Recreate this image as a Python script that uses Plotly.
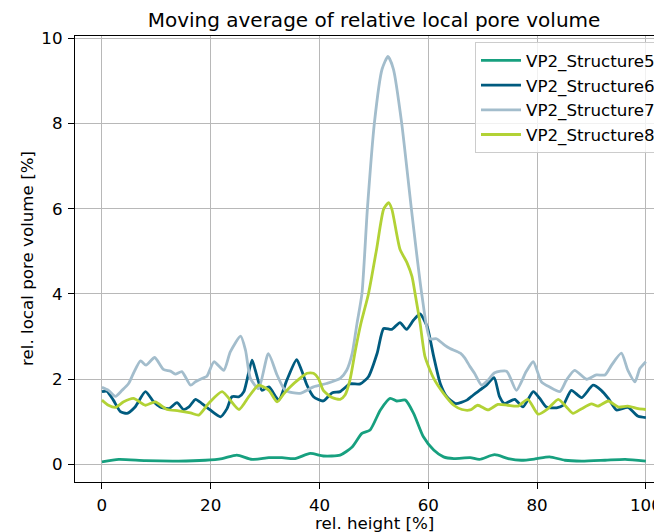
import plotly.graph_objects as go

# ---- data ----
x5 = [0, 3.1, 8, 14.1, 19, 22.1, 24.8, 27.6, 30.7, 33.1, 35.5, 38.3, 40.7, 43.8, 46.0, 47.8, 49.3,
      51.2, 53.0, 54.2, 55.8, 57.3, 59.1, 61.0, 62.8, 64.7, 67.7, 69.4, 72.2, 74.7, 77.1, 79.6,
      82.3, 85.1, 88.2, 92.5, 96.2, 100]
y5 = [0.06, 0.12, 0.09, 0.08, 0.10, 0.14, 0.22, 0.12, 0.16, 0.16, 0.14, 0.26, 0.20, 0.22, 0.41, 0.73, 0.81,
      1.28, 1.55, 1.49, 1.51, 1.20, 0.65, 0.34, 0.18, 0.14, 0.16, 0.12, 0.23, 0.14, 0.10, 0.13,
      0.18, 0.10, 0.08, 0.10, 0.12, 0.08]

x6 = [0, 0.9, 2.1, 3.4, 4.6, 6.1, 8.0, 9.5, 10.7, 12.3, 13.8, 15.0, 16.0, 17.2, 18.4, 19.9, 21.8,
      23.0, 23.9, 25.2, 26.1, 27.6, 28.2, 29.4, 30.7, 32.5, 34.0, 35.8, 36.7, 37.7, 38.9, 40.7,
      42.3, 43.8, 45.6, 47.5, 49.0, 50.6, 51.8, 53.3, 54.8, 56.0, 57.3, 58.5, 59.8, 61.0, 62.2,
      63.4, 65.0, 67.1, 67.9, 69.4, 70.7, 72.1, 73.1, 74.0, 75.9, 77.4, 79.3, 80.5, 81.7, 83.6,
      84.8, 86.3, 88.2, 90.3, 91.8, 93.1, 94.6, 96.7, 98.6, 100]
y6 = [1.71, 1.72, 1.51, 1.24, 1.20, 1.35, 1.71, 1.47, 1.35, 1.31, 1.45, 1.29, 1.35, 1.53, 1.43, 1.28, 1.12,
      1.31, 1.59, 1.59, 1.71, 2.45, 2.21, 1.74, 1.82, 1.51, 1.98, 2.46, 2.21, 1.86, 1.59, 1.49,
      1.68, 1.71, 1.89, 1.89, 2.06, 2.61, 3.19, 3.17, 3.33, 3.17, 3.39, 3.53, 3.23, 2.53, 1.90,
      1.59, 1.43, 1.51, 1.59, 1.74, 1.86, 2.04, 1.59, 1.43, 1.53, 1.35, 1.71, 1.55, 1.35, 1.33,
      1.39, 1.74, 1.57, 1.86, 1.74, 1.55, 1.28, 1.34, 1.13, 1.10]

x7 = [0, 1.2, 2.5, 3.7, 4.9, 5.8, 7.1, 8.1, 9.7, 11.3, 12.6, 13.5, 14.7, 16.3, 17.2, 18.4, 19.3,
      20.6, 22.4, 23.6, 25.5, 26.4, 27.3, 28.8, 30.6, 32.2, 33.7, 36.4, 38.9, 41.3, 43.8, 45.0,
      46.0, 46.9, 47.8, 48.8, 50.1, 51.5, 52.6, 53.6, 55.1, 56.9, 58.8, 60.3, 61.5, 63.0, 64.0,
      65.9, 66.7, 67.7, 68.5, 69.8, 71.0, 72.2, 74.4, 76.2, 78.0, 79.3, 80.8, 82.3, 84.2, 85.4,
      86.9, 89.1, 90.9, 92.5, 93.7, 95.5, 96.7, 98.0, 98.9, 100]
y7 = [1.81, 1.74, 1.60, 1.74, 1.90, 2.14, 2.43, 2.33, 2.51, 2.23, 2.19, 2.12, 2.18, 1.86, 1.94, 2.02, 2.07,
      2.41, 2.21, 2.64, 3.01, 2.68, 2.02, 1.78, 2.60, 2.10, 1.74, 1.67, 1.82, 1.90, 2.02, 2.21,
      2.60, 3.31, 4.00, 5.99, 8.02, 9.27, 9.57, 9.27, 8.02, 5.99, 4.00, 2.95, 2.95, 2.80, 2.72,
      2.61, 2.50, 2.29, 2.14, 1.86, 1.98, 2.15, 2.19, 1.74, 2.18, 2.41, 1.94, 1.82, 1.71, 1.98,
      2.21, 2.00, 2.10, 2.10, 2.33, 2.61, 2.21, 1.94, 2.25, 2.41]

x8 = [0, 1.2, 2.5, 4.0, 5.8, 8.0, 9.8, 12.0, 14.1, 16.3, 17.8, 19.6, 22.1, 25.2, 27.0, 28.8, 30.7,
      32.2, 33.5, 34.6, 36.4, 37.7, 38.9, 39.8, 40.7, 42.3, 43.8, 44.7, 45.6, 46.6, 47.6, 49.0,
      50.5, 51.8, 52.7, 53.3, 54.8, 56.1, 57.0, 57.6, 58.5, 59.4, 61.0, 62.8, 64.7, 66.2, 67.7,
      69.1, 71.0, 72.8, 74.6, 76.5, 78.3, 80.2, 82.0, 83.9, 85.4, 86.6, 88.2, 90.0, 91.2, 93.1,
      94.9, 96.7, 98.6, 100]
y8 = [1.51, 1.39, 1.34, 1.47, 1.55, 1.39, 1.47, 1.29, 1.26, 1.21, 1.16, 1.43, 1.71, 1.29, 1.59, 1.86, 1.74,
      1.47, 1.67, 1.82, 2.02, 2.14, 2.14, 2.02, 1.74, 1.57, 1.53, 1.63, 1.98, 2.68, 3.30, 4.00,
      5.05, 5.99, 6.14, 5.99, 5.05, 4.73, 4.41, 3.99, 3.31, 2.53, 2.02, 1.67, 1.39, 1.29, 1.28,
      1.39, 1.28, 1.41, 1.39, 1.37, 1.53, 1.18, 1.31, 1.53, 1.35, 1.20, 1.31, 1.42, 1.37, 1.49,
      1.35, 1.37, 1.31, 1.29]

names = ["VP2_Structure5", "VP2_Structure6", "VP2_Structure7", "VP2_Structure8"]
colors = ["#17a07f", "#005b7f", "#a3bdcc", "#b2d235"]
xticks = [0, 20, 40, 60, 80, 100]
yticks = [0, 2, 4, 6, 8, 10]

FONT = "DejaVu Sans"
FS = 16.7

fig = go.Figure()
for xs, ys, nm, c in zip([x5, x6, x7, x8], [y5, y6, y7, y8], names, colors):
    fig.add_trace(go.Scatter(x=xs, y=ys, mode="lines", name=nm,
                             line=dict(color=c, width=2.8, shape="spline", smoothing=0.6)))

W, H = 654, 532
L, R, T, B = 75, 0, 36, 50
pw, ph = W - L - R, H - T - B

axis_common = dict(showgrid=True, gridcolor="#b8b8b8", gridwidth=1.2,
                   showline=True, linecolor="black", linewidth=1.2,
                   ticks="outside", ticklen=6, tickcolor="black", tickwidth=1.2,
                   zeroline=False, tickfont=dict(family=FONT, size=FS, color="black"))

fig.update_layout(
    width=W, height=H,
    margin=dict(l=L, r=R, t=T, b=B, autoexpand=False),
    paper_bgcolor="white", plot_bgcolor="white",
    font=dict(family=FONT, size=FS, color="black"),
    title=dict(text="Moving average of relative local pore volume",
               font=dict(family=FONT, size=20, color="black"),
               xref="container", x=374 / W, xanchor="center",
               yref="container", y=1 - 20 / H, yanchor="middle"),
    xaxis=dict(range=[-4.95, 101.5], tickvals=xticks, ticktext=[str(v) for v in xticks],
               mirror=True, ticklabeloverflow="allow", ticklabelstandoff=2, **axis_common),
    yaxis=dict(range=[-0.41, 10.05], tickvals=yticks, ticktext=[str(v) for v in yticks],
               mirror=False, ticklabelstandoff=2, **axis_common),
    legend=dict(x=(475 - L) / pw, y=(482 - 42) / ph, xanchor="left", yanchor="top",
                itemwidth=40,
                bordercolor="#cccccc", borderwidth=1, bgcolor="rgba(255,255,255,0.8)",
                font=dict(family=FONT, size=FS, color="black")),
    annotations=[
        dict(text="rel. height [%]", xref="paper", yref="paper",
             x=(374 - L) / pw, y=(482 - 523) / ph, xanchor="center", yanchor="middle",
             showarrow=False, font=dict(family=FONT, size=FS, color="black")),
        dict(text="rel. local pore volume [%]", xref="paper", yref="paper",
             x=(27 - L) / pw, y=0.5, xanchor="center", yanchor="middle", textangle=-90,
             showarrow=False, font=dict(family=FONT, size=FS, color="black")),
    ],
)

fig.write_html("out.html")
